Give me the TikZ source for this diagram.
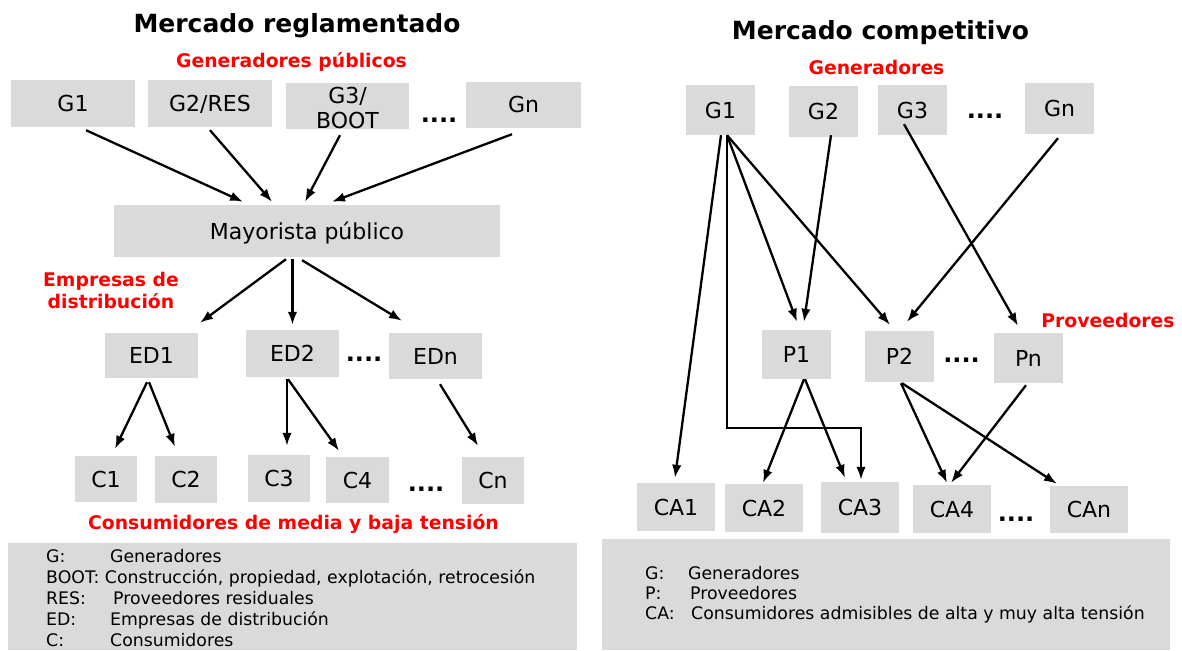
\documentclass[tikz,border=0pt]{standalone}
\usepackage{fontspec}
\setmainfont{DejaVu Sans}
\usetikzlibrary{calc,arrows.meta}
\definecolor{boxgray}{RGB}{218,218,218}
\definecolor{lblred}{RGB}{255,0,0}
\tikzset{
  bx/.style={fill=boxgray, inner sep=0pt, font=\fontsize{22}{26}\selectfont, text height=16pt, text depth=0pt},
  arr/.style={line width=2.3pt, -{Latex[length=13pt,width=9.5pt]}},
  ttl/.style={font=\fontsize{25}{30}\selectfont\bfseries, anchor=base, inner sep=0pt},
  lbl/.style={font=\fontsize{18.8}{22}\selectfont\bfseries, text=lblred, anchor=base, inner sep=0pt},
  dts/.style={font=\fontsize{24}{28}\selectfont\bfseries, anchor=base, inner sep=0pt},
  leg/.style={font=\fontsize{17.3}{21}\selectfont, anchor=base west, inner sep=0pt},
  legbox/.style={fill=boxgray, draw=none}
}
\begin{document}
\begin{tikzpicture}[x=1pt,y=-1pt]
\useasboundingbox (0,0) rectangle (1182,650);

% ---------------- Left: Mercado reglamentado ----------------
\node[ttl] (titleL) at (297,33) {Mercado reglamentado};
\node[lbl] (genpub) at (291.5,68) {Generadores públicos};

\node[bx, minimum width=124, minimum height=47] (G1L) at (73,103.5) {G1};
\node[bx, minimum width=124, minimum height=47] (G2L) at (210,103.5) {G2/RES};
\node[bx, minimum width=123, minimum height=46] (G3L) at (347.5,106) {};
\node[anchor=base, inner sep=0pt, font=\fontsize{22}{25}\selectfont] (G3Lt) at (347.5,103)
  {\begin{tabular}[t]{@{}c@{}}G3/\\BOOT\end{tabular}};
\node[dts] (dL1) at (439,122) {....};
\node[bx, minimum width=115, minimum height=46] (GnL) at (523.5,105) {Gn};

\node[bx, minimum width=386, minimum height=52] (M) at (307,231) {Mayorista público};

\draw[arr] ($(G1L.south)+(13,3)$) -- ($(M.north)+(-64,-3)$);
\draw[arr] ($(G2L.south)+(0,3)$) -- ($(M.north)+(-35,-3)$);
\draw[arr] ($(G3L.south)+(-7.5,6)$) -- ($(M.north)+(-2,-3)$);
\draw[arr] ($(GnL.south)+(-11.5,6)$) -- ($(M.north)+(25,-3)$);

\node[lbl, anchor=base] (empdist) at (111,286)
  {\begin{tabular}[t]{@{}c@{}}Empresas de\\distribución\end{tabular}};

\node[bx, minimum width=93, minimum height=45] (ED1) at (151.5,355.5) {ED1};
\node[bx, minimum width=93, minimum height=47] (ED2) at (292.5,353.5) {ED2};
\node[dts] (dL2) at (364,361) {....};
\node[bx, minimum width=93, minimum height=46] (EDn) at (435.5,356) {EDn};

\draw[arr] ($(M.south)+(-21,2)$) -- ($(ED1.north)+(48.5,-10)$);
\draw[arr] ($(M.south)+(-14.5,2)$) -- ($(ED2.north)+(0,-5)$);
\draw[arr] ($(M.south)+(-5,3)$) -- ($(EDn.north)+(-33.5,-12)$);

\node[bx, minimum width=62, minimum height=46] (C1) at (106,479) {C1};
\node[bx, minimum width=62, minimum height=47] (C2) at (186,479.5) {C2};
\node[bx, minimum width=62, minimum height=47] (C3) at (279,478.5) {C3};
\node[bx, minimum width=63, minimum height=46] (C4) at (357.5,480) {C4};
\node[dts] (dL3) at (426,491) {....};
\node[bx, minimum width=62, minimum height=47] (Cn) at (493,480.5) {Cn};

\draw[arr] ($(ED1.south)+(-4.5,4)$) -- ($(C1.north)+(9,-7)$);
\draw[arr] ($(ED1.south)+(-2.5,4)$) -- ($(C2.north)+(-11,-9)$);
\draw[arr] ($(ED2.south)+(-5.5,2)$) -- ($(C3.north)+(8,-9)$);
\draw[arr] ($(ED2.south)+(-4.5,2)$) -- ($(C4.north)+(-18.5,-6)$);
\draw[arr] ($(EDn.south)+(4.5,5)$) -- ($(Cn.north)+(-15,-11)$);

\node[lbl] (consmb) at (293.5,529) {Consumidores de media y baja tensión};

\fill[boxgray] (8,543) rectangle (577,650);
\node[leg] (lg1) at (46,562) {\makebox[64pt][l]{G:}Generadores};
\node[leg] (lg2) at (46,583) {BOOT: Construcción, propiedad, explotación, retrocesión};
\node[leg] (lg3) at (46,604) {\makebox[67pt][l]{RES:}Proveedores residuales};
\node[leg] (lg4) at (46,625) {\makebox[64pt][l]{ED:}Empresas de distribución};
\node[leg] (lg5) at (46,646) {\makebox[64pt][l]{C:}Consumidores};

% ---------------- Right: Mercado competitivo ----------------
\node[ttl] (titleR) at (880.5,40) {Mercado competitivo};
\node[lbl] (gen) at (876.5,75) {Generadores};

\node[bx, minimum width=69, minimum height=50] (G1R) at (720.5,110) {G1};
\node[bx, minimum width=69, minimum height=51] (G2R) at (823.5,111.5) {G2};
\node[bx, minimum width=69, minimum height=50] (G3R) at (912.5,110) {G3};
\node[dts] (dR1) at (985,119) {....};
\node[bx, minimum width=69, minimum height=51] (GnR) at (1059.5,108.5) {Gn};

\node[bx, minimum width=69, minimum height=49] (P1) at (796.5,354.5) {P1};
\node[bx, minimum width=69, minimum height=51] (P2) at (899.5,356.5) {P2};
\node[dts] (dR2) at (961.5,362) {....};
\node[bx, minimum width=69, minimum height=50] (Pn) at (1028.5,358) {Pn};
\node[lbl] (prov) at (1108,327) {Proveedores};

\node[bx, minimum width=78, minimum height=48] (CA1) at (676,507) {CA1};
\node[bx, minimum width=78, minimum height=48] (CA2) at (764,508) {CA2};
\node[bx, minimum width=78, minimum height=51] (CA3) at (860,507.5) {CA3};
\node[bx, minimum width=78, minimum height=48] (CA4) at (952,509) {CA4};
\node[dts] (dR3) at (1016,521) {....};
\node[bx, minimum width=78, minimum height=47] (CAn) at (1089,509.5) {CAn};

\draw[arr] ($(G1R.south)+(0.5,0)$) -- ($(CA1.north)+(-1,-5)$);
\draw[arr] ($(G1R.south)+(6.5,0)$) -- ++(0,293) -| ($(CA3.north)+(1,-2)$);
\draw[arr] ($(G1R.south)+(6.5,0)$) -- ($(P1.north)+(0.5,-8)$);
\draw[arr] ($(G1R.south)+(6.5,0)$) -- ($(P2.north)+(-9.5,-6)$);
\draw[arr] ($(G2R.south)+(7.5,-2)$) -- ($(P1.north)+(7.5,-8)$);
\draw[arr] ($(G3R.south)+(-8.5,-11)$) -- ($(Pn.north)+(-10.5,-7)$);
\draw[arr] ($(GnR.south)+(-1.5,4)$) -- ($(P2.north)+(7.5,-9)$);

\draw[arr] ($(P1.south)+(7.5,0)$) -- ($(CA2.north)+(-1,-1)$);
\draw[arr] ($(P1.south)+(8.5,0)$) -- ($(CA3.north)+(-15,-4)$);
\draw[arr] ($(P2.south)+(1.5,1)$) -- ($(CA4.north)+(-5,-2)$);
\draw[arr] ($(P2.south)+(2.5,1)$) -- ($(CAn.north)+(-32,-2)$);
\draw[arr] ($(Pn.south)+(-2.5,2)$) -- ($(CA4.north)+(-1,-2)$);

\fill[boxgray] (602,539) rectangle (1170,650);
\node[leg] (rg1) at (645,579) {\makebox[43pt][l]{G:}Generadores};
\node[leg] (rg2) at (645,599) {\makebox[45pt][l]{P:}Proveedores};
\node[leg] (rg3) at (645,619) {\makebox[46pt][l]{CA:}Consumidores admisibles de alta y muy alta tensión};
\end{tikzpicture}
\end{document}
